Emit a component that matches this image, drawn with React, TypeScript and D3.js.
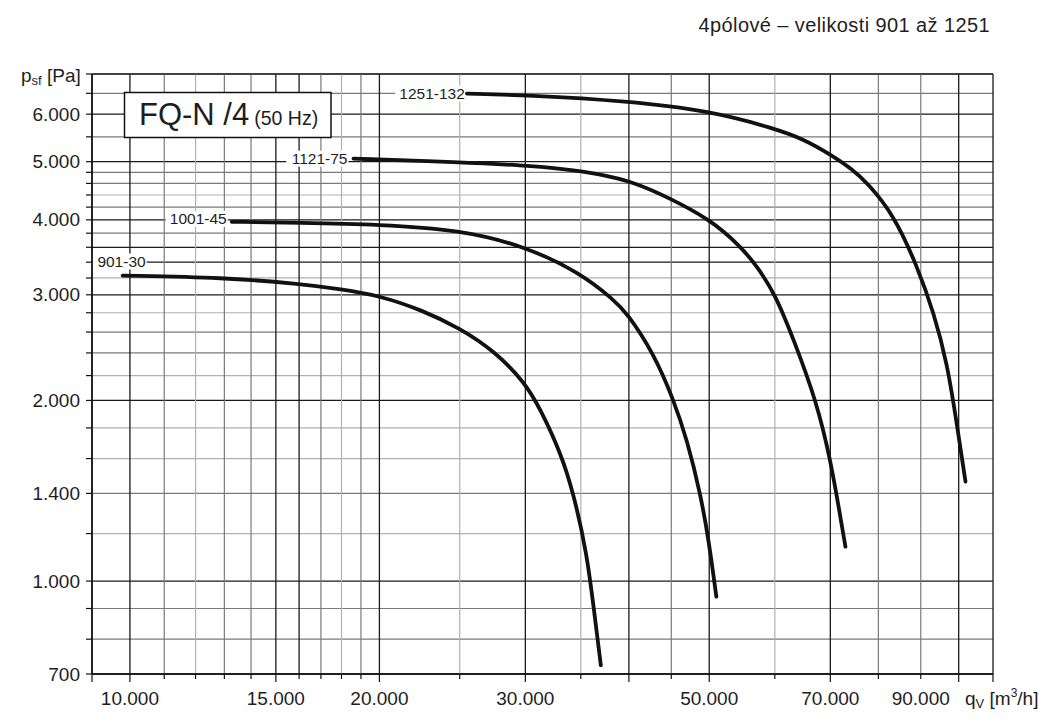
import React from "react";
import * as d3 from "d3";

const WIDTH = 1054;
const HEIGHT = 726;

// ---- data ----
const curveNames = ["901-30", "1001-45", "1121-75", "1251-132"];

const q901 = [9800, 13000, 16000, 18000, 20000, 22500, 25000, 27500, 30000, 31300, 33100, 34300, 35600, 36300, 37000];
const p901 = [3230, 3205, 3130, 3065, 2990, 2830, 2640, 2420, 2140, 1930, 1635, 1400, 1110, 895, 724];

const q1001 = [13270, 16000, 20000, 25000, 30000, 34940, 38330, 39790, 42830, 45290, 47010, 48780, 49930, 51000];
const p1001 = [3970, 3955, 3930, 3850, 3614, 3264, 2945, 2798, 2399, 2005, 1719, 1401, 1171, 942];

const q1121 = [18610, 25030, 29850, 33000, 36940, 40530, 44460, 50160, 54520, 57110, 60090, 63230, 67470, 70000, 71640, 73000];
const p1121 = [5058, 4991, 4929, 4873, 4770, 4620, 4370, 4005, 3614, 3348, 3002, 2526, 1980, 1592, 1331, 1141];

const q1251 = [25500, 30130, 39790, 50160, 60000, 65000, 70000, 74500, 77530, 83500, 89100, 93330, 96850, 99590, 101900];
const p1251 = [6494, 6452, 6312, 6074, 5677, 5450, 5142, 4850, 4613, 4080, 3348, 2798, 2309, 1810, 1465];

const seriesQ = [q901, q1001, q1121, q1251];
const seriesP = [p901, p1001, p1121, p1251];

const xTickLabels = [10000, 15000, 20000, 30000, 50000, 70000, 90000];
const yTickLabels = [700, 1000, 1400, 2000, 3000, 4000, 5000, 6000];

const xGridValues = [
  9000, 10000, 11000, 12000, 13000, 14000, 15000, 16000, 17000, 18000, 19000, 20000,
  25000, 30000, 35000, 40000, 45000, 50000, 60000, 70000, 80000, 90000, 100000, 110000,
];
const yGridValues = [
  700, 800, 900, 1000, 1200, 1400, 1600, 1800, 2000, 2200, 2400, 2600, 2800, 3000,
  3200, 3400, 3600, 3800, 4000, 4200, 4400, 4600, 4800, 5000, 5500, 6000, 6500, 7000,
];
const xGridDark = [9000, 10000, 15000, 16000, 20000, 30000, 40000, 50000, 70000, 100000, 110000];
const xGridLight = [12000, 18000, 25000, 35000, 60000];
const yGridDark = [700, 1000, 2000, 3000, 3400, 3600, 4000, 5000, 6000, 7000];
const yGridLight = [1200, 1600, 1800, 2200, 2800, 3200, 4400];

const xDomain = [9000, 110000];
const yDomain = [700, 7000];

const titleText = "4pólové – velikosti 901 až 1251";

// ---- styles ----
const FONT = "'Liberation Sans', Arial, Helvetica, sans-serif";
const TEXT = "#1e1e1e";
const labelOffsets = [
  { dx: 23, dy: -14 },
  { dx: -5, dy: -3 },
  { dx: -6, dy: 0 },
  { dx: -2, dy: 0 },
];

const fmt = d3
  .formatLocale({ decimal: ",", thousands: ".", grouping: [3], currency: ["", ""] })
  .format(",");

export default function App() {
  const left = 92, right = 993, top = 74, bottom = 674;
  const x = d3.scaleLog().domain(xDomain).range([left, right]);
  const y = d3.scaleLog().domain(yDomain).range([bottom, top]);

  const line = d3
    .line<[number, number]>()
    .x((d) => x(d[0]))
    .y((d) => y(d[1]))
    .curve(d3.curveBasis);

  const gridColor = (v: number, dark: number[], light: number[]) =>
    dark.includes(v) ? "#1a1a1a" : light.includes(v) ? "#b0b0b0" : "#7a7a7a";

  const labelFont = 15.5;

  return (
    <svg
      width={WIDTH}
      height={HEIGHT}
      style={{ position: "absolute", left: 0, top: 0, background: "#fff" }}
      fontFamily={FONT}
    >
      <rect x={0} y={0} width={WIDTH} height={HEIGHT} fill="#fff" />

      {/* horizontal grid */}
      {yGridValues.map((v) => (
        <line
          key={"hy" + v}
          x1={left}
          x2={right}
          y1={y(v)}
          y2={y(v)}
          stroke={gridColor(v, yGridDark, yGridLight)}
          strokeWidth={yGridDark.includes(v) ? 1.3 : 1.2}
        />
      ))}
      {/* vertical grid */}
      {xGridValues.map((v) => (
        <line
          key={"vx" + v}
          x1={x(v)}
          x2={x(v)}
          y1={top}
          y2={bottom}
          stroke={gridColor(v, xGridDark, xGridLight)}
          strokeWidth={xGridDark.includes(v) ? 1.3 : 1.2}
        />
      ))}

      {/* axes */}
      <line x1={left} x2={right} y1={bottom} y2={bottom} stroke="#111" strokeWidth={1.5} />
      <line x1={left} x2={left} y1={top} y2={bottom} stroke="#111" strokeWidth={1.5} />
      <line x1={left} x2={right} y1={top} y2={top} stroke="#333" strokeWidth={1.2} />

      {/* y ticks */}
      {yGridValues.map((v) => (
        <line key={"ty" + v} x1={left - 6} x2={left} y1={y(v)} y2={y(v)} stroke="#111" strokeWidth={1.2} />
      ))}
      {/* x ticks */}
      {xGridValues.map((v) => {
        const major = xGridDark.includes(v) && v !== 16000;
        return (
          <line
            key={"tx" + v}
            x1={x(v)}
            x2={x(v)}
            y1={bottom}
            y2={bottom + (major ? 8 : 5)}
            stroke="#111"
            strokeWidth={1.2}
          />
        );
      })}

      {/* y tick labels */}
      {yTickLabels.map((v) => (
        <text
          key={"ly" + v}
          x={80}
          y={y(v)}
          dy="0.35em"
          textAnchor="end"
          fontSize={19}
          fill={TEXT}
        >
          {fmt(v)}
        </text>
      ))}
      {/* x tick labels */}
      {xTickLabels.map((v) => (
        <text key={"lx" + v} x={x(v)} y={705} textAnchor="middle" fontSize={19} fill={TEXT}>
          {fmt(v)}
        </text>
      ))}

      {/* axis titles */}
      <text x={21} y={82} fontSize={19} fill={TEXT}>
        p<tspan fontSize={13} dy={3}>sf</tspan>
        <tspan dy={-3}> [Pa]</tspan>
      </text>
      <text x={965} y={705} fontSize={19} fill={TEXT}>
        q<tspan fontSize={13} dy={3}>V</tspan>
        <tspan dy={-3}> [m</tspan>
        <tspan fontSize={12} dy={-8}>3</tspan>
        <tspan dy={8}>/h]</tspan>
      </text>

      {/* top title */}
      <text x={990} y={32} textAnchor="end" fontSize={20} letterSpacing={0.4} fill={TEXT}>
        {titleText}
      </text>

      {/* title box */}
      <rect x={124.5} y={92.5} width={206.5} height={45} fill="#fff" stroke="#111" strokeWidth={1.5} />
      <text x={139} y={125} fontSize={31} fill={TEXT}>
        FQ-N /4<tspan fontSize={19.5} dx={5}>(50 Hz)</tspan>
      </text>

      {/* curve labels */}
      {curveNames.map((name, i) => {
        const sx = x(seriesQ[i][0]);
        const sy = y(seriesP[i][0]);
        const o = labelOffsets[i];
        const tx = sx + o.dx;
        const ty = sy + o.dy;
        const w = name.length * 0.545 * labelFont + 2;
        return (
          <g key={"lab" + name}>
            <rect x={tx - w} y={ty - 8} width={w + 1} height={16} fill="#fff" />
            <text x={tx} y={ty} dy="0.35em" textAnchor="end" fontSize={labelFont} fill={TEXT}>
              {name}
            </text>
          </g>
        );
      })}

      {/* curves */}
      {curveNames.map((name, i) => {
        const pts = seriesQ[i].map((q, j) => [q, seriesP[i][j]] as [number, number]);
        return (
          <path
            key={"c" + name}
            d={line(pts) || ""}
            fill="none"
            stroke="#111"
            strokeWidth={3.8}
            strokeLinecap="round"
            strokeLinejoin="round"
          />
        );
      })}
    </svg>
  );
}
